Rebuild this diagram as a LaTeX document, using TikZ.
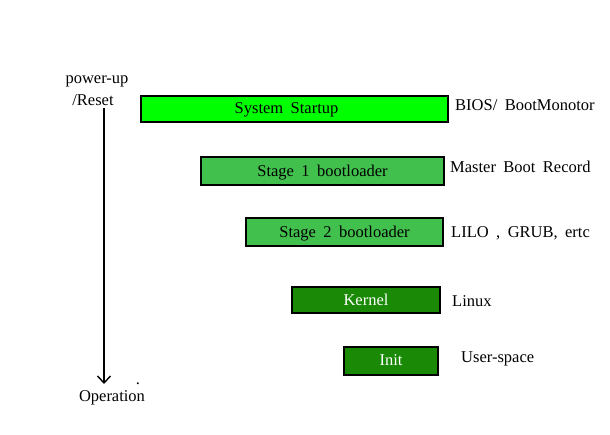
\documentclass[tikz,border=0pt]{standalone}
\usepackage{fontspec}
\setmainfont[WordSpace=1.8]{Liberation Serif}
\usetikzlibrary{arrows.meta}
\definecolor{limegreen}{HTML}{00FF00}
\definecolor{midgreen}{HTML}{42C04E}
\definecolor{darkgreen}{HTML}{1A8A06}

\begin{document}
\begin{tikzpicture}[x=1pt, y=-1pt,
  stagebox/.style={draw, line width=1.6pt, inner sep=0pt, text depth=1pt, font=\fontsize{16.5}{18}\selectfont},
  note/.style={anchor=west, inner sep=0pt, font=\fontsize{16.5}{18}\selectfont}]
\useasboundingbox (0,0) rectangle (610,435);
\node[stagebox, fill=limegreen, minimum width=307pt, minimum height=26pt] (sys) at (294.5,109) {System Startup\kern16pt};
\node[stagebox, fill=midgreen, minimum width=243pt, minimum height=28pt] (stone) at (322.5,171) {Stage 1 bootloader};
\node[stagebox, fill=midgreen, minimum width=197pt, minimum height=28pt] (sttwo) at (344.5,232) {Stage 2 bootloader};
\node[stagebox, fill=darkgreen, text=white, minimum width=148pt, minimum height=26pt] (kern) at (366,300) {Kernel};
\node[stagebox, fill=darkgreen, text=white, minimum width=94pt, minimum height=28pt] (init) at (391,361) {Init};
\node[note] (bios) at (455,105) {BIOS/ BootMonotor};
\node[note] (mbr) at (450,167) {Master Boot Record};
\node[note] (lilo) at (451,233) {LILO , GRUB, ertc};
\node[note] (linux) at (452,301) {Linux};
\node[note] (user) at (461,359) {User-space};
\node[font=\fontsize{16.5}{18}\selectfont, inner sep=0pt] (power) at (97,81) {power-up};
\node[font=\fontsize{16.5}{18}\selectfont, inner sep=0pt] (reset) at (93,100) {/Reset};
\node[font=\fontsize{16.5}{18}\selectfont, inner sep=0pt] (oper) at (112,398) {Operation};
\node[font=\fontsize{16.5}{18}\selectfont, inner sep=0pt] (dot) at (138,384) {.};
\coordinate (top) at (104,108);
\coordinate (bot) at (104,384);
\draw[-{Straight Barb[length=7pt,width=13pt]}, line width=1.4pt] (top) -- (bot);
\end{tikzpicture}
\end{document}
